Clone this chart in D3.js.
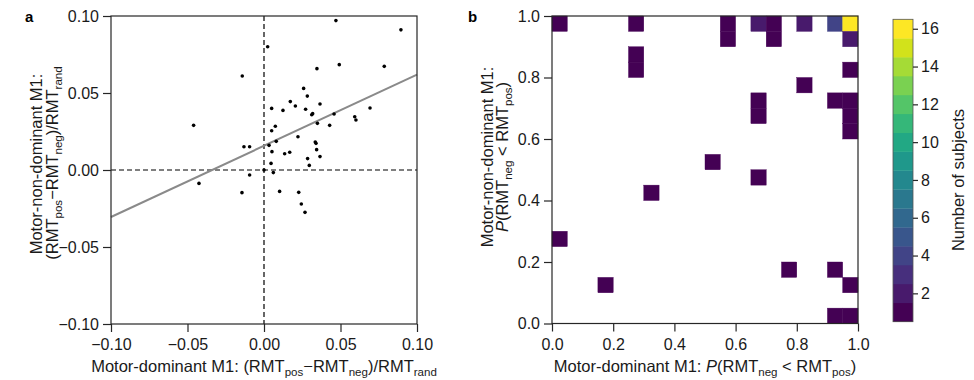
<!DOCTYPE html>
<html>
<head>
<meta charset="utf-8">
<script src="https://cdn.jsdelivr.net/npm/d3@7"></script>
<style>
  html, body { margin: 0; padding: 0; background: #fff; }
  svg { display: block; font-family: "Liberation Sans", Arial, sans-serif; }
</style>
</head>
<body>
<svg id="chart" width="974" height="380"></svg>
<script>
// Panel a: relative RMT change, motor-dominant (x) vs motor-non-dominant (y)
const scatterX = [0.047, 0.0895, 0.0024, 0.0346, 0.0492, 0.0786, -0.0142, -0.046, 0.0259, 0.0283,
  0.005, 0.0124, 0.0172, 0.0205, 0.0272, 0.0366, 0.0318, 0.0312, 0.0458, 0.0693,
  0.0593, 0.0601, 0.0349, 0.0429, 0.0074, 0.005, 0.0222, 0.008, 0.0033, -0.0131,
  -0.0094, 0.0335, 0.034, 0.0052, 0.0135, 0.0168, 0.0344, 0.0366, 0.0285, 0.0296,
  0.0046, 0.0, 0.0061, -0.0094, -0.0425, -0.0144, 0.0102, 0.0227, 0.0244, 0.0268];
const scatterY = [0.097, 0.091, 0.080, 0.0658, 0.0684, 0.0673, 0.061, 0.029, 0.053, 0.048,
  0.040, 0.0387, 0.0444, 0.0416, 0.0394, 0.0429, 0.0366, 0.0359, 0.0364, 0.0403,
  0.0346, 0.0325, 0.0303, 0.029, 0.0284, 0.0255, 0.0216, 0.0186, 0.016, 0.0151,
  0.0151, 0.0182, 0.0173, 0.0119, 0.0106, 0.0115, 0.0132, 0.0087, 0.0074, 0.0030,
  0.0043, 0.0, -0.0017, -0.0032, -0.0087, -0.0147, -0.0139, -0.0145, -0.0221, -0.0275];
const fitSlope = 0.462;
const fitIntercept = 0.0157;
const scatterTicks = [-0.10, -0.05, 0.00, 0.05, 0.10];

// Panel b: 2D histogram of P(RMT_neg < RMT_pos), bins of 0.05
const binWidth = 0.05;
const cellX = [0.00, 0.25, 0.55, 0.65, 0.70, 0.80, 0.90, 0.95,
  0.55, 0.70, 0.95,
  0.25,
  0.25, 0.95,
  0.80,
  0.65, 0.90, 0.95,
  0.65, 0.95,
  0.95,
  0.50,
  0.65,
  0.30,
  0.00,
  0.75, 0.90,
  0.15, 0.95,
  0.90, 0.95];
const cellY = [0.95, 0.95, 0.95, 0.95, 0.95, 0.95, 0.95, 0.95,
  0.90, 0.90, 0.90,
  0.85,
  0.80, 0.80,
  0.75,
  0.70, 0.70, 0.70,
  0.65, 0.65,
  0.60,
  0.50,
  0.45,
  0.40,
  0.25,
  0.15, 0.15,
  0.10, 0.10,
  0.00, 0.00];
const cellCount = [1, 1, 1, 2, 1, 2, 4, 16,
  1, 1, 2,
  1,
  1, 1,
  1,
  1, 1, 1,
  1, 1,
  1,
  1,
  1,
  1,
  1,
  1, 1,
  1, 1,
  1, 1];
const probTicks = [0.0, 0.2, 0.4, 0.6, 0.8, 1.0];
const countLevels = d3.range(1, 17);
const colorbarTicks = [2, 4, 6, 8, 10, 12, 14, 16];

const svg = d3.select("#chart");
const axisColor = "#262626";
const tickFont = 16;
const titleFont = 16.5;

// Write text with subscript / italic runs: parts = [[str, "n"|"s"|"i"], ...]
function richText(g, parts, attrs, size = titleFont) {
  const t = g.append("text").attr("font-size", size).attr("fill", "#1a1a1a");
  Object.entries(attrs).forEach(([k, v]) => t.attr(k, v));
  const shift = size * 0.24;
  let shifted = false;
  parts.forEach(([s, kind]) => {
    const sp = t.append("tspan").text(s);
    if (kind === "s") {
      sp.attr("font-size", size * 0.7);
      if (!shifted) { sp.attr("dy", shift); shifted = true; }
    } else {
      if (shifted) { sp.attr("dy", -shift); shifted = false; }
      if (kind === "i") sp.attr("font-style", "italic");
    }
  });
  return t;
}

function styleAxis(g) {
  g.selectAll(".domain").remove();
  g.selectAll(".tick line").attr("stroke", axisColor).attr("stroke-width", 1.2);
  g.selectAll(".tick text").attr("font-size", tickFont).attr("fill", "#1a1a1a")
    .attr("font-family", "Liberation Sans, Arial, sans-serif");
}

// ---------- Panel a ----------
const ax = d3.scaleLinear().domain([-0.1, 0.1]).range([111, 417]);
const ay = d3.scaleLinear().domain([-0.1, 0.1]).range([324, 16]);
const fmt2 = d3.format(".2f");

const pa = svg.append("g");
pa.append("g").attr("transform", `translate(0,${ay.range()[0]})`)
  .call(d3.axisBottom(ax).tickValues(scatterTicks).tickFormat(fmt2).tickSize(8).tickPadding(7))
  .call(styleAxis);
pa.append("g").attr("transform", `translate(${ax.range()[0]},0)`)
  .call(d3.axisLeft(ay).tickValues(scatterTicks).tickFormat(fmt2).tickSize(8).tickPadding(4))
  .call(styleAxis);

// zero reference lines
pa.append("line").attr("x1", ax(0)).attr("x2", ax(0)).attr("y1", ay(0.1)).attr("y2", ay(-0.1))
  .attr("stroke", "#000").attr("stroke-width", 1.2).attr("stroke-dasharray", "5,3");
pa.append("line").attr("x1", ax(-0.1)).attr("x2", ax(0.1)).attr("y1", ay(0)).attr("y2", ay(0))
  .attr("stroke", "#000").attr("stroke-width", 1.2).attr("stroke-dasharray", "5,3");

// linear fit
const [fx0, fx1] = ax.domain();
pa.append("line")
  .attr("x1", ax(fx0)).attr("y1", ay(fitIntercept + fitSlope * fx0))
  .attr("x2", ax(fx1)).attr("y2", ay(fitIntercept + fitSlope * fx1))
  .attr("stroke", "#8a8a8a").attr("stroke-width", 2);

pa.append("g").selectAll("circle").data(scatterX.map((x, i) => [x, scatterY[i]]))
  .join("circle").attr("cx", d => ax(d[0])).attr("cy", d => ay(d[1])).attr("r", 1.8).attr("fill", "#000");

pa.append("rect").attr("x", ax.range()[0]).attr("y", ay.range()[1])
  .attr("width", ax.range()[1] - ax.range()[0]).attr("height", ay.range()[0] - ay.range()[1])
  .attr("fill", "none").attr("stroke", axisColor).attr("stroke-width", 1.2);

richText(pa, [["Motor-dominant M1: (RMT", "n"], ["pos", "s"], ["\u2212RMT", "n"], ["neg", "s"], [")/RMT", "n"], ["rand", "s"]],
  { x: (ax.range()[0] + ax.range()[1]) / 2, y: 372, "text-anchor": "middle" });
richText(pa, [["Motor-non-dominant M1:", "n"]],
  { transform: "translate(42,164) rotate(-90)", "text-anchor": "middle" });
richText(pa, [["(RMT", "n"], ["pos", "s"], ["\u2212RMT", "n"], ["neg", "s"], [")/RMT", "n"], ["rand", "s"]],
  { transform: "translate(58,163) rotate(-90)", "text-anchor": "middle" });
pa.append("text").attr("x", 25).attr("y", 22).attr("font-size", 15).attr("font-weight", "bold").text("a");

// ---------- Panel b ----------
const bx = d3.scaleLinear().domain([0, 1]).range([552, 858]);
const by = d3.scaleLinear().domain([0, 1]).range([323.5, 16]);
const nViridis = countLevels.length;
const color = d3.scaleOrdinal().domain(countLevels)
  .range(countLevels.map((k, i) => d3.interpolateViridis(i / (nViridis - 1))));
const fmt1 = d3.format(".1f");

const pb = svg.append("g");
pb.append("g").selectAll("rect").data(cellX.map((x, i) => ({ x, y: cellY[i], n: cellCount[i] })))
  .join("rect")
  .attr("x", d => bx(d.x)).attr("y", d => by(d.y + binWidth))
  .attr("width", d => bx(d.x + binWidth) - bx(d.x))
  .attr("height", d => by(d.y) - by(d.y + binWidth))
  .attr("fill", d => color(d.n))
  .attr("stroke", d => color(d.n)).attr("stroke-width", 0.4);

pb.append("g").attr("transform", `translate(0,${by.range()[0]})`)
  .call(d3.axisBottom(bx).tickValues(probTicks).tickFormat(fmt1).tickSize(8).tickPadding(7))
  .call(styleAxis);
pb.append("g").attr("transform", `translate(${bx.range()[0]},0)`)
  .call(d3.axisLeft(by).tickValues(probTicks).tickFormat(fmt1).tickSize(8).tickPadding(4))
  .call(styleAxis);
pb.append("rect").attr("x", bx.range()[0]).attr("y", by.range()[1])
  .attr("width", bx.range()[1] - bx.range()[0]).attr("height", by.range()[0] - by.range()[1])
  .attr("fill", "none").attr("stroke", axisColor).attr("stroke-width", 1.2);

richText(pb, [["Motor-dominant M1: ", "n"], ["P", "i"], ["(RMT", "n"], ["neg", "s"], [" < RMT", "n"], ["pos", "s"], [")", "n"]],
  { x: (bx.range()[0] + bx.range()[1]) / 2, y: 372, "text-anchor": "middle" });
richText(pb, [["Motor-non-dominant M1:", "n"]],
  { transform: "translate(493,157) rotate(-90)", "text-anchor": "middle" });
richText(pb, [["P", "i"], ["(RMT", "n"], ["neg", "s"], [" < RMT", "n"], ["pos", "s"], [")", "n"]],
  { transform: "translate(508,157) rotate(-90)", "text-anchor": "middle" });
pb.append("text").attr("x", 468).attr("y", 22).attr("font-size", 15).attr("font-weight", "bold").text("b");

// ---------- Colorbar ----------
const cy = d3.scaleLinear().domain([0.5, 16.5]).range([321.7, 19.3]);
const cbX = 893, cbW = 20;
const cb = svg.append("g");
cb.append("g").selectAll("rect").data(countLevels).join("rect")
  .attr("x", cbX).attr("y", d => cy(d + 0.5)).attr("width", cbW)
  .attr("height", d => cy(d - 0.5) - cy(d + 0.5) + 0.3)
  .attr("fill", d => color(d));
cb.append("rect").attr("x", cbX).attr("y", cy(16.5)).attr("width", cbW).attr("height", cy(0.5) - cy(16.5))
  .attr("fill", "none").attr("stroke", "#555").attr("stroke-width", 0.8);
cb.append("g").attr("transform", `translate(${cbX + cbW},0)`)
  .call(d3.axisRight(cy).tickValues(colorbarTicks).tickFormat(d3.format("d")).tickSize(5).tickPadding(3))
  .call(styleAxis);
richText(cb, [["Number of subjects", "n"]],
  { transform: "translate(964,180) rotate(-90)", "text-anchor": "middle" });
</script>
</body>
</html>
